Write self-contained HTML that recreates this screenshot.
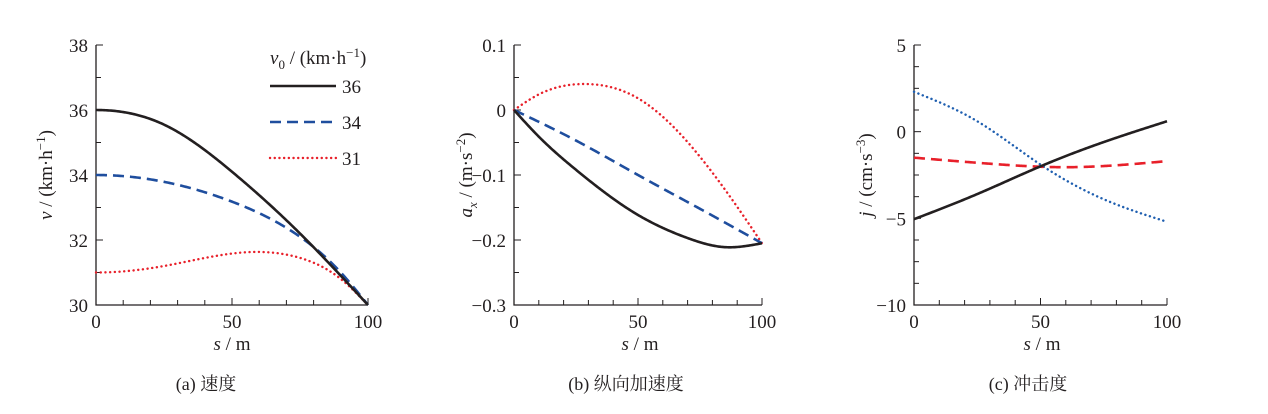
<!DOCTYPE html>
<html><head><meta charset="utf-8"><style>
body{margin:0;background:#fff}
svg{display:block}
text{font-family:"Liberation Serif","Noto Serif CJK SC",serif;fill:#231f20}
</style></head><body>
<svg id="s" width="1268" height="414" xmlns="http://www.w3.org/2000/svg"></svg>
<script>
const S=document.getElementById('s');let h='';
function T(x,y,t,a,sz,extra){h+=`<text x="${x}" y="${y}" font-size="${sz||19}" text-anchor="${a||'middle'}" ${extra||''}>${t}</text>`;}
function axes(x0,x1,y0,y1,ymin,ymax,ymaj,ymin_step,ylabels){
 h+=`<path d="M${x0} ${y0}V${y1}H${x1}" stroke="#231f20" stroke-width="1.3" fill="none"/>`;
 for(let i=0;i<=10;i++){let x=x0+(x1-x0)*i/10;let L=i%5==0?7:5;h+=`<line x1="${x}" y1="${y1}" x2="${x}" y2="${y1-L}" stroke="#231f20" stroke-width="1"/>`;}
 let n=Math.round((ymax-ymin)/ymin_step);
 for(let i=0;i<=n;i++){let v=ymin+i*ymin_step;let y=y1-(y1-y0)*i/n;let maj=Math.abs(v/ymaj-Math.round(v/ymaj))<1e-6;h+=`<line x1="${x0}" y1="${y}" x2="${x0+(maj?7:5)}" y2="${y}" stroke="#231f20" stroke-width="1"/>`;}
 [0,50,100].forEach((v,i)=>T(x0+(x1-x0)*i/2,y1+23,v));
 ylabels.forEach(([v,l])=>T(x0-8,y1-(y1-y0)*(v-ymin)/(ymax-ymin)+7,l,'end'));
}
// natural cubic spline
function spl(P,d0){const n=P.length,x=P.map(p=>p[0]),y=P.map(p=>p[1]);const hh=[],al=[0],l=[1],mu=[0],z=[0],c=[],b=[],d=[];
 for(let i=0;i<n-1;i++)hh[i]=x[i+1]-x[i];
 if(d0!==undefined){al[0]=3*(y[1]-y[0])/hh[0]-3*d0;l[0]=2*hh[0];mu[0]=0.5;z[0]=al[0]/l[0];}
 for(let i=1;i<n-1;i++){al[i]=3/hh[i]*(y[i+1]-y[i])-3/hh[i-1]*(y[i]-y[i-1]);l[i]=2*(x[i+1]-x[i-1])-hh[i-1]*mu[i-1];mu[i]=hh[i]/l[i];z[i]=(al[i]-hh[i-1]*z[i-1])/l[i];}
 c[n-1]=0;for(let j=n-2;j>=0;j--){c[j]=z[j]-mu[j]*c[j+1];b[j]=(y[j+1]-y[j])/hh[j]-hh[j]*(c[j+1]+2*c[j])/3;d[j]=(c[j+1]-c[j])/(3*hh[j]);}
 return u=>{let s=u*100,j=0;while(j<n-2&&s>x[j+1])j++;let t=s-x[j];return y[j]+b[j]*t+c[j]*t*t+d[j]*t*t*t;};}
function path(f,x0,x1,y0,y1,ymin,ymax,st){let p='';for(let i=0;i<=200;i++){let u=i/200;let x=x0+(x1-x0)*u,y=y1-(y1-y0)*(f(u)-ymin)/(ymax-ymin);p+=(i?'L':'M')+x.toFixed(2)+' '+y.toFixed(2);}h+=`<path d="${p}" fill="none" ${st}/>`;}
const BL='stroke="#231f20" stroke-width="2.6"',BU='stroke="#1f4e9e" stroke-width="2.6" stroke-dasharray="11 6"',RD='stroke="#e8202a" stroke-width="2.4" stroke-dasharray="0.1 4.6" stroke-linecap="round"';
const BUd='stroke="#1f5fb0" stroke-width="2.4" stroke-dasharray="0.1 4.6" stroke-linecap="round"',RDd='stroke="#e8202a" stroke-width="2.6" stroke-dasharray="11 6"';
// panel a
axes(96,368,45,305,30,38,2,1,[[30,30],[32,32],[34,34],[36,36],[38,38]]);
path(spl([[0,31],[25,31.2],[57,31.63],[75,31.45],[90,30.8],[100,30]],0),96,368,45,305,30,38,RD);
path(spl([[0,34],[25,33.79],[50,33.18],[75,32.1],[90,31.0],[100,30]],0),96,368,45,305,30,38,BU);
path(spl([[0,36],[25,35.55],[50,34.1],[75,32.2],[90,30.9],[100,30]],0),96,368,45,305,30,38,BL);
T(232,350,'<tspan font-style="italic">s</tspan> / m');
h+=`<text x="0" y="0" font-size="19" text-anchor="middle" transform="translate(52,175) rotate(-90)"><tspan font-style="italic">v</tspan> / (km·h<tspan dy="-7" font-size="13">−1</tspan><tspan dy="7">)</tspan></text>`;
h+=`<text x="270" y="64" font-size="19"><tspan font-style="italic">v</tspan><tspan dy="5" font-size="13">0</tspan><tspan dy="-5"> / (km·h</tspan><tspan dy="-7" font-size="13">−1</tspan><tspan dy="7">)</tspan></text>`;
h+=`<line x1="270" y1="86" x2="336" y2="86" ${BL}/><line x1="270" y1="122" x2="336" y2="122" ${BU}/><line x1="270" y1="158" x2="336" y2="158" ${RD}/>`;
T(342,93,'36','start');T(342,129,'34','start');T(342,165,'31','start');
// panel b
axes(514,762,45,305,-0.3,0.1,0.1,0.05,[[-0.3,'−0.3'],[-0.2,'−0.2'],[-0.1,'−0.1'],[0,'0'],[0.1,'0.1']]);
path(spl([[0,0],[10,0.024],[28,0.04],[50,0.018],[75,-0.072],[90,-0.149],[100,-0.205]]),514,762,45,305,-0.3,0.1,RD);
path(spl([[0,0],[25,-0.047],[50,-0.1],[75,-0.152],[100,-0.205]]),514,762,45,305,-0.3,0.1,BU);
path(spl([[0,0],[10,-0.041],[25,-0.092],[50,-0.1615],[70,-0.197],[85,-0.211],[100,-0.205]]),514,762,45,305,-0.3,0.1,BL);
T(640,350,'<tspan font-style="italic">s</tspan> / m');
h+=`<text x="0" y="0" font-size="19" text-anchor="middle" transform="translate(472,175) rotate(-90)"><tspan font-style="italic">a</tspan><tspan dy="5" font-size="13" font-style="italic">x</tspan><tspan dy="-5"> / (m·s</tspan><tspan dy="-7" font-size="13">−2</tspan><tspan dy="7">)</tspan></text>`;
// panel c
axes(914,1167,45,305,-10,5,5,1.25,[[-10,'−10'],[-5,'−5'],[0,'0'],[5,'5']]);
path(spl([[0,2.3],[25,0.6],[50,-1.9],[75,-3.9],[100,-5.2]]),914,1167,45,305,-10,5,BUd);
path(spl([[0,-1.5],[30,-1.85],[60,-2.05],[100,-1.7]]),914,1167,45,305,-10,5,RDd);
path(spl([[0,-5.05],[25,-3.6],[50,-2.0],[75,-0.6],[100,0.6]]),914,1167,45,305,-10,5,BL);
T(1042,350,'<tspan font-style="italic">s</tspan> / m');
h+=`<text x="0" y="0" font-size="19" text-anchor="middle" transform="translate(872,175) rotate(-90)"><tspan font-style="italic">j</tspan> / (cm·s<tspan dy="-7" font-size="13">−3</tspan><tspan dy="7">)</tspan></text>`;
// captions
T(206,390,'(a)  速度',null,18);T(626,390,'(b)  纵向加速度',null,18);T(1028,390,'(c)  冲击度',null,18);
S.innerHTML=h;
</script>
</body></html>
